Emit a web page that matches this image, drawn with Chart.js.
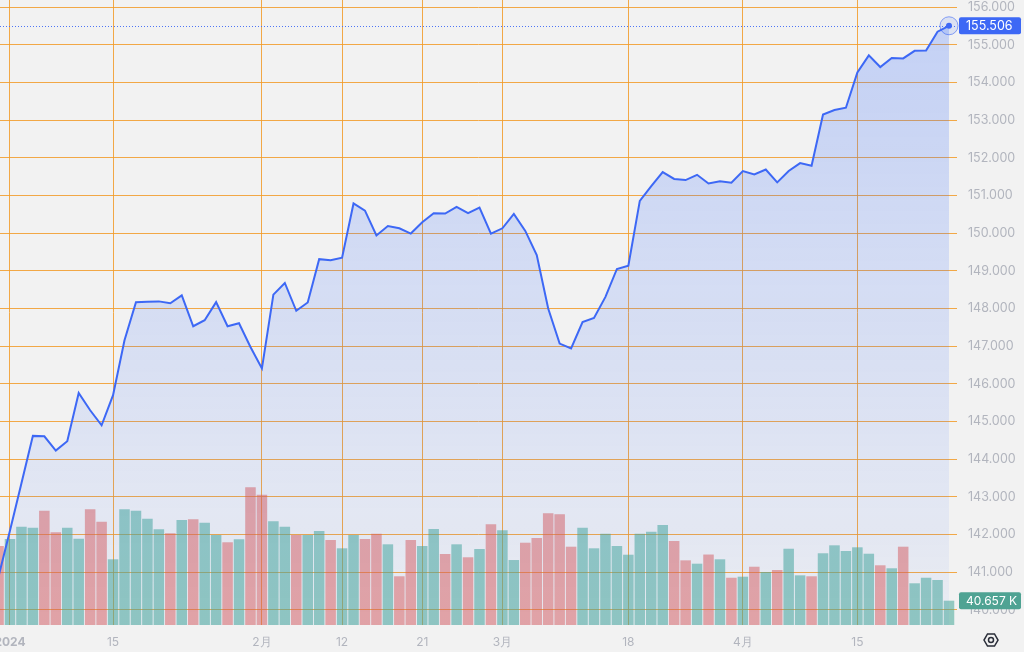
<!DOCTYPE html>
<html>
<head>
<meta charset="utf-8">
<script src="https://cdn.jsdelivr.net/npm/chart.js@4.4.1/dist/chart.umd.min.js"></script>
<style>
html, body { margin: 0; padding: 0; background: #f2f2f2; }
#wrap { width: 1024px; height: 652px; }
</style>
</head>
<body>
<div id="wrap"><canvas id="grafico"></canvas></div>
<script>
// Cierres diarios (una sesión por índice, el primero es el 29 dic)
var precios = [
    140.89, 142.11, 143.36, 144.62, 144.61, 144.23, 144.48, 145.76, 145.30, 144.90,
    145.70, 147.16, 148.17, 148.18, 148.19, 148.14, 148.35, 147.53, 147.69, 148.17,
    147.53, 147.61, 146.98, 146.41, 148.37, 148.68, 147.94, 148.16, 149.31, 149.28,
    149.35, 150.79, 150.60, 149.94, 150.19, 150.13, 149.99, 150.29, 150.53, 150.52,
    150.70, 150.53, 150.68, 149.99, 150.13, 150.51, 150.06, 149.42, 148.00, 147.07,
    146.94, 147.64, 147.75, 148.31, 149.05, 149.14, 150.86, 151.25, 151.62, 151.44,
    151.41, 151.55, 151.32, 151.38, 151.34, 151.65, 151.56, 151.69, 151.35, 151.65,
    151.86, 151.79, 153.15, 153.27, 153.33, 154.27, 154.72, 154.41, 154.65, 154.64,
    154.84, 154.85, 155.35, 155.506
];

// Volumen por sesión (en K)
var volumenes = [
    132.2, 143.9, 164.5, 162.8, 191.2, 155.1, 162.8, 144.4, 193.6, 172.8,
    109.9, 193.6, 191.2, 177.8, 160.1, 153.4, 175.7, 176.8, 171.1, 150.6,
    138.4, 143.4, 230.4, 218.0, 173.5, 164.5, 150.6, 150.6, 157.3, 142.2,
    128.3, 150.6, 143.9, 152.7, 135.0, 81.5, 142.2, 132.2, 160.6, 118.8,
    135.0, 113.3, 127.1, 168.5, 158.4, 108.7, 137.7, 145.6, 186.9, 185.2,
    131.0, 162.8, 128.3, 152.7, 132.2, 117.6, 152.7, 156.1, 167.3, 140.5,
    108.2, 102.6, 117.9, 109.9, 79.1, 80.8, 97.5, 88.7, 92.0, 127.6,
    83.1, 81.5, 120.0, 133.3, 123.8, 130.0, 119.3, 99.9, 94.9, 131.0,
    69.8, 79.1, 75.3, 40.657
];

// 1 = sesión alcista (verde), 0 = bajista (rojo)
var subida = [
    0, 1, 1, 1, 0, 0, 1, 1, 0, 0,
    1, 1, 1, 1, 1, 0, 1, 0, 1, 1,
    0, 1, 0, 0, 1, 1, 0, 1, 1, 0,
    1, 1, 0, 0, 1, 0, 0, 1, 1, 0,
    1, 0, 1, 0, 1, 1, 0, 0, 0, 0,
    0, 1, 1, 1, 1, 1, 1, 1, 1, 0,
    0, 1, 0, 1, 0, 1, 0, 1, 0, 1,
    1, 0, 1, 1, 1, 1, 1, 0, 1, 0,
    1, 1, 1, 1
];

// Etiquetas del eje de tiempo y su sesión
var posTicks = [1, 10, 23, 30, 37, 44, 55, 65, 75];
var etiquetasTicks = ['2024', '15', '2月', '12', '21', '3月', '18', '4月', '15'];

// Marcas del eje de precios
var ticksPrecio = [140, 141, 142, 143, 144, 145, 146, 147, 148, 149, 150, 151, 152, 153, 154, 155, 156];

var puntosPrecio = precios.map(function(p, i) { return { x: i, y: p }; });
var puntosVol = volumenes.map(function(v, i) { return { x: i, y: v }; });
var coloresVol = subida.map(function(s) {
    return s ? 'rgba(70,168,152,0.55)' : 'rgba(222,88,84,0.5)';
});

var naranja = 'rgba(242,155,40,0.85)';
var gris = '#b2b5be';
var azul = '#3d68f5';

// Dibuja una caja de valor en el eje derecho
function caja(c, x, y, color, texto, tam) {
    c.fillStyle = color;
    c.beginPath();
    if (c.roundRect) c.roundRect(x, y - 8.5, 62, 17, 2); else c.rect(x, y - 8.5, 62, 17);
    c.fill();
    c.fillStyle = '#ffffff';
    c.font = tam + 'px Inter';
    c.textBaseline = 'middle';
    c.textAlign = 'left';
    c.fillText(texto, x + 7, y + 0.5);
}

var extras = {
    id: 'extras',
    afterDraw: function(chart) {
        var c = chart.ctx, a = chart.chartArea;
        var sx = chart.scales.x, sy = chart.scales.y, sv = chart.scales.yVol;
        var ult = precios.length - 1;
        var px = sx.getPixelForValue(ult), py = sy.getPixelForValue(precios[ult]);
        c.save();
        // línea punteada del último precio
        c.strokeStyle = 'rgba(61,104,245,0.9)';
        c.lineWidth = 1;
        c.setLineDash([1, 2]);
        c.beginPath();
        c.moveTo(a.left, Math.round(py) + 0.5);
        c.lineTo(a.right, Math.round(py) + 0.5);
        c.stroke();
        c.setLineDash([]);
        // halo del último punto
        c.beginPath();
        c.arc(px, py, 9, 0, 2 * Math.PI);
        c.fillStyle = 'rgba(61,104,245,0.12)';
        c.fill();
        c.strokeStyle = 'rgba(61,104,245,0.6)';
        c.stroke();
        c.beginPath();
        c.arc(px, py, 3, 0, 2 * Math.PI);
        c.fillStyle = azul;
        c.fill();
        // cajas de precio y volumen
        caja(c, a.right + 2, py, azul, precios[ult].toFixed(3), 12.5);
        caja(c, a.right + 2, sv.getPixelForValue(volumenes[ult]), '#4fa393', volumenes[ult].toFixed(3) + ' K', 12);
        // icono de ajustes
        var cx = 991, cy = 640, r = 7;
        c.strokeStyle = '#2a2e39';
        c.lineWidth = 1.5;
        c.beginPath();
        for (var k = 0; k < 6; k++) {
            var ang = k * Math.PI / 3;
            var xx = cx + r * Math.cos(ang), yy = cy + r * Math.sin(ang);
            if (k === 0) c.moveTo(xx, yy); else c.lineTo(xx, yy);
        }
        c.closePath();
        c.stroke();
        c.beginPath();
        c.arc(cx, cy, 2.5, 0, 2 * Math.PI);
        c.stroke();
        c.restore();
    }
};

var ctx = document.getElementById('grafico').getContext('2d');
var grafico = new Chart(ctx, {
    data: {
        datasets: [{
            type: 'line',
            data: puntosPrecio,
            yAxisID: 'y',
            borderColor: azul,
            borderWidth: 2,
            pointRadius: 0,
            tension: 0,
            fill: 'start',
            backgroundColor: function(context) {
                var area = context.chart.chartArea;
                if (!area) return 'rgba(41,98,255,0.1)';
                var g = context.chart.ctx.createLinearGradient(0, area.top + 20, 0, area.bottom);
                g.addColorStop(0, 'rgba(41,98,255,0.23)');
                g.addColorStop(1, 'rgba(41,98,255,0.04)');
                return g;
            },
            order: 1
        }, {
            type: 'bar',
            data: puntosVol,
            yAxisID: 'yVol',
            backgroundColor: coloresVol,
            barPercentage: 0.92,
            categoryPercentage: 1,
            order: 2
        }]
    },
    options: {
        responsive: true,
        maintainAspectRatio: false,
        animation: false,
        layout: { padding: 0 },
        plugins: { legend: { display: false }, tooltip: { enabled: false } },
        scales: {
            x: {
                type: 'linear',
                min: 0.127,
                max: 83.7,
                offset: false,
                position: 'bottom',
                grid: { color: naranja, lineWidth: 1, drawTicks: false, offset: false },
                border: { display: false },
                afterBuildTicks: function(s) {
                    s.ticks = posTicks.map(function(v) { return { value: v }; });
                },
                afterFit: function(s) {
                    s.height = 27;
                    s.paddingLeft = 0;
                    s.paddingRight = 0;
                },
                ticks: {
                    autoSkip: false,
                    maxRotation: 0,
                    padding: 10,
                    color: gris,
                    font: function(c) {
                        return { family: 'Inter', size: 12, weight: (c.tick && c.tick.value === 1) ? 'bold' : 'normal' };
                    },
                    callback: function(v) {
                        var k = posTicks.indexOf(v);
                        return k >= 0 ? etiquetasTicks[k] : '';
                    }
                }
            },
            y: {
                position: 'right',
                min: 139.6,
                max: 156.19,
                grid: { color: naranja, lineWidth: 1, drawTicks: false },
                border: { display: false },
                afterBuildTicks: function(s) {
                    s.ticks = ticksPrecio.map(function(v) { return { value: v }; });
                },
                afterFit: function(s) {
                    s.width = 67;
                    s.paddingTop = 0;
                    s.paddingBottom = 0;
                },
                ticks: {
                    padding: 11,
                    color: gris,
                    font: { family: 'Inter', size: 12.5 },
                    callback: function(v) { return Number(v).toFixed(3); }
                }
            },
            yVol: {
                display: false,
                min: 0,
                max: 1045.7
            }
        }
    },
    plugins: [extras]
});
</script>
</body>
</html>
